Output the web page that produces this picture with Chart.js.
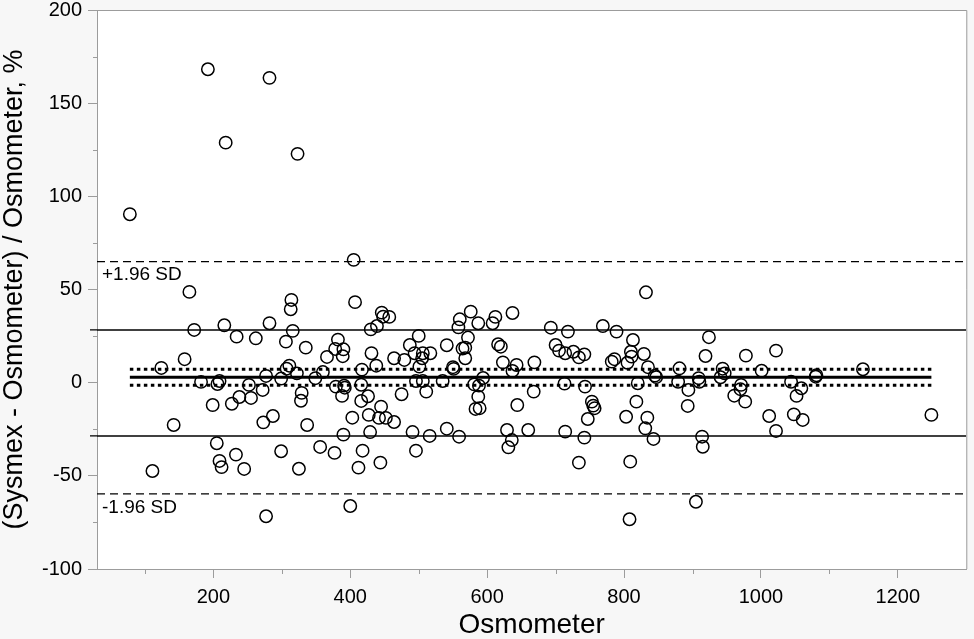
<!DOCTYPE html>
<html>
<head>
<meta charset="utf-8">
<title>Sysmex vs Osmometer</title>
<script src="https://cdn.jsdelivr.net/npm/chart.js@4.4.1/dist/chart.umd.min.js"></script>
<style>
    html, body { margin: 0; padding: 0; background: #f7f7f7; }
    #wrap { width: 974px; height: 639px; }
</style>
</head>
<body>
<div id="wrap"><canvas id="baChart"></canvas></div>
<script>
// Osmometer value (x) and % difference (y) for each sample
const osmometer = [
    78, 192, 282, 218, 323,
    165, 314, 313, 172, 216, 234, 262, 282, 316, 306, 335, 158, 124, 182, 209,
    206, 252, 277, 272, 299, 311, 307, 322, 349, 238, 255, 227, 199, 329, 328,
    287, 273, 142, 337, 205, 233, 209, 212, 245, 299, 325, 111, 277,
    405, 407, 446, 457, 448, 439, 430, 382, 378, 390, 389, 366, 431, 464, 479,
    487, 500, 494, 506, 517, 505, 501, 438, 417, 360, 379, 391, 392, 416, 388,
    416, 426, 475, 445, 403, 427, 442, 452, 464, 390, 429, 356, 377, 418, 412,
    444, 400, 491, 496, 516, 511, 496, 506, 535, 541, 550, 551, 541, 559, 558,
    560, 576, 587, 572, 564, 568, 568, 581, 588, 594, 587, 583, 589, 608, 612,
    616, 620, 623, 637, 637, 629, 636, 631, 644,
    832, 693, 718, 769, 789, 813, 810, 811, 805, 829, 835, 845, 847, 820, 818,
    803, 834, 831, 843, 809, 808, 700, 705, 714, 726, 734, 742, 782, 786, 643,
    669, 668, 713, 743, 753, 755, 757, 747, 660, 714, 742, 734, 881, 879, 894,
    893, 909, 910, 924, 919, 941, 914, 915, 905, 944,
    978, 1022, 947, 971, 970, 961, 977, 1001, 1044, 1059, 1052, 1080, 1081, 1149,
    1012, 1022, 1048, 1061, 1249
];
const pctDiff = [
    90.4, 168.2, 163.6, 128.8, 122.8,
    48.7, 44.4, 39.4, 28.3, 30.8, 24.7, 23.8, 31.9, 27.8, 22, 18.8, 12.6, 7.9, 0.4, 0.9,
    -0.7, -1.2, 3.6, -3.9, 2.2, 9.1, 7.5, 5, 2.4, -7.7, -8.2, -11.3, -12, -5.5, -9.7,
    -17.9, -21.3, -22.7, -22.7, -32.5, -38.6, -42, -45.3, -46.3, -36.8, -46.2, -47.4, -71.7,
    65.9, 43.2, 37.6, 35.3, 35.4, 30.4, 28.6, 23.1, 18.1, 17.9, 14.2, 13.8, 15.8, 13.1, 12.2,
    20.2, 25.1, 15.8, 15.8, 15.8, 13.1, 8.6, 9.1, 7, 5.7, -2.1, -1.6, -2.7, -1.1, -7.1,
    -9.8, -7.3, -6.2, -12.9, -18.8, -17.3, -18.9, -18.9, -21.1, -27.9, -26.5, -34.5, -37.7, -36.5, -45.6,
    -42.9, -66.2, -26.5, -36.5, -28.6, -4.8, 0.9, 0.9, 0.9, 20.1, 8.3, 7.4, -24.7, -29, 29.7,
    34, 38.1, 31.9, 24.2, 18.3, 18.8, 13.1, -0.9, -1.6, 2.5, -7.5, -14.1, -13.7, 31.9, 35.3,
    20.6, 19.3, 10.9, 6.3, 37.4, -25.4, -30.8, -34.7, -12,
    48.5, 29.5, 27.4, 30.4, 27.4, 22.9, 16.6, 14, 10.7, 15.4, 8.3, 3.8, 3, -0.3, -10.2,
    -18.3, -18.8, -24.5, -30.2, -42.4, -73.3, 20.2, 17.2, 15.8, 16.6, 13.6, 15.2, 11.3, 12.6, 9.5,
    10.9, -4.8, -0.5, -2.1, -10.2, -12.3, -13.7, -19.5, -25.4, -26.3, -29.5, -42.9, 7.7, 0.5, -3.9,
    -12.5, 2.4, 0.5, 24.4, 14.3, 2.9, -29, -34.4, -63.9, 7.5,
    14.5, 17.2, 5, -1.2, -3.5, -7, -10.2, 6.4, 0.5, -3, -7.1, 3.2, 4, 7.2,
    -17.9, -25.9, -17, -20, -17.3
];

// reference lines
const meanBias = 2.9;
const meanCI = [7.2, -1.4];
const loaLines = [65, -59.7];
const limitLines = [28.3, -28.6];
const loaLabels = ['+1.96 SD', '-1.96 SD'];

// axes
const xRange = [30, 1300];
const yRange = [-100, 200];
const xMajor = [200, 400, 600, 800, 1000, 1200];
const xMinor = [100, 300, 500, 700, 900, 1100];
const yMinor = [-75, -25, 25, 75, 125, 175];

const FONT = '"Liberation Sans", Arial, Helvetica, sans-serif';
const AXIS_GREY = '#9c9c9c';
const INK = '#000';

const xLo = Math.min(...osmometer);
const xHi = Math.max(...osmometer);

function hline(y, x0, x1, style) {
    return Object.assign({
        type: 'line',
        data: [{ x: x0, y: y }, { x: x1, y: y }],
        borderColor: INK,
        pointRadius: 0,
        fill: false,
        tension: 0,
        borderCapStyle: 'butt'
    }, style);
}

const framePlugin = {
    id: 'frame',
    beforeDraw(chart) {
        const { ctx, chartArea: a } = chart;
        ctx.save();
        ctx.fillStyle = '#f7f7f7';
        ctx.fillRect(0, 0, chart.width, chart.height);
        ctx.fillStyle = '#ffffff';
        ctx.fillRect(a.left, a.top, a.right - a.left, a.bottom - a.top);
        ctx.restore();
    },
    afterDraw(chart) {
        const { ctx, chartArea: a, scales } = chart;
        const xs = scales.x, ys = scales.y;
        ctx.save();
        ctx.strokeStyle = AXIS_GREY;
        ctx.lineWidth = 1;
        ctx.beginPath();
        ctx.moveTo(a.left, a.top + 0.5);
        ctx.lineTo(a.right + 0.5, a.top + 0.5);
        ctx.lineTo(a.right + 0.5, a.bottom);
        ctx.stroke();

        // minor ticks
        ctx.beginPath();
        xMinor.forEach(v => {
            const px = Math.round(xs.getPixelForValue(v)) + 0.5;
            ctx.moveTo(px, a.bottom);
            ctx.lineTo(px, a.bottom + 5);
        });
        yMinor.forEach(v => {
            const py = Math.round(ys.getPixelForValue(v)) + 0.5;
            ctx.moveTo(a.left, py);
            ctx.lineTo(a.left - 4, py);
        });
        ctx.stroke();

        // solid limit lines poke out past the y axis
        ctx.strokeStyle = INK;
        ctx.lineWidth = 1.3;
        ctx.beginPath();
        limitLines.forEach(v => {
            const py = ys.getPixelForValue(v);
            ctx.moveTo(a.left - 7, py);
            ctx.lineTo(a.left, py);
        });
        ctx.stroke();

        // +/- 1.96 SD labels
        ctx.fillStyle = INK;
        ctx.font = '19px ' + FONT;
        ctx.textAlign = 'left';
        ctx.textBaseline = 'top';
        loaLines.forEach((v, i) => {
            ctx.fillText(loaLabels[i], a.left + 5, ys.getPixelForValue(v) + 4);
        });
        ctx.restore();
    }
};

const points = osmometer.map((x, i) => ({ x: x, y: pctDiff[i] }));

const datasets = [
    hline(loaLines[0], xRange[0], xRange[1], { borderWidth: 1.3, borderDash: [8, 5] }),
    hline(loaLines[1], xRange[0], xRange[1], { borderWidth: 1.3, borderDash: [8, 5] }),
    hline(limitLines[0], xRange[0], xRange[1], { borderWidth: 1.4 }),
    hline(limitLines[1], xRange[0], xRange[1], { borderWidth: 1.4 }),
    hline(meanCI[0], xLo, xHi, { borderWidth: 3, borderDash: [3.5, 3.5] }),
    hline(meanCI[1], xLo, xHi, { borderWidth: 3, borderDash: [3.5, 3.5] }),
    hline(meanBias, xLo, xHi, { borderWidth: 3 }),
    {
        type: 'scatter',
        data: points,
        pointRadius: 6.2,
        pointHoverRadius: 6.2,
        borderWidth: 1.5,
        borderColor: INK,
        backgroundColor: 'rgba(0,0,0,0)'
    }
];

new Chart(document.getElementById('baChart'), {
    type: 'scatter',
    data: { datasets: datasets },
    plugins: [framePlugin],
    options: {
        responsive: true,
        maintainAspectRatio: false,
        animation: false,
        layout: { padding: { top: 10, right: 4, left: 0, bottom: 0 } },
        plugins: {
            legend: { display: false },
            tooltip: { enabled: false }
        },
        scales: {
            x: {
                type: 'linear',
                min: xRange[0],
                max: xRange[1],
                afterBuildTicks: scale => {
                    scale.ticks = xMajor.map(v => ({ value: v }));
                },
                afterFit: scale => {
                    scale.height = 70;
                    scale.paddingLeft = 0;
                    scale.paddingRight = 0;
                },
                grid: { drawOnChartArea: false, drawTicks: true, tickLength: 9, color: AXIS_GREY },
                border: { color: AXIS_GREY, width: 1 },
                ticks: {
                    padding: 7,
                    color: INK,
                    font: { family: FONT, size: 20 },
                    callback: v => String(v)
                },
                title: {
                    display: true,
                    text: 'Osmometer',
                    color: INK,
                    padding: 0,
                    font: { family: FONT, size: 28, lineHeight: 1 }
                }
            },
            y: {
                min: yRange[0],
                max: yRange[1],
                ticks: { stepSize: 50, padding: 6, color: INK, font: { family: FONT, size: 20 } },
                afterFit: scale => {
                    scale.width = 97;
                    scale.paddingTop = 0;
                    scale.paddingBottom = 0;
                },
                grid: { drawOnChartArea: false, drawTicks: true, tickLength: 9, color: AXIS_GREY },
                border: { color: AXIS_GREY, width: 1 },
                title: {
                    display: true,
                    text: '(Sysmex - Osmometer) / Osmometer, %',
                    color: INK,
                    padding: { top: 1, bottom: 0 },
                    font: { family: FONT, size: 27, lineHeight: 1 }
                }
            }
        }
    }
});
</script>
</body>
</html>
